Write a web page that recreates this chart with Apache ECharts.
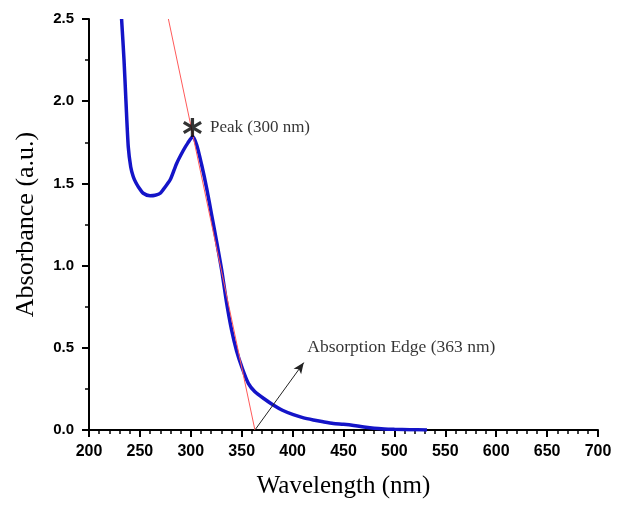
<!DOCTYPE html>
<html>
<head>
<meta charset="utf-8">
<script src="https://cdn.jsdelivr.net/npm/echarts@6/dist/echarts.min.js"></script>
<style>
  html, body { margin: 0; padding: 0; background: #fff; }
  #chart { width: 620px; height: 507px; }
</style>
</head>
<body>
<div id="chart"></div>
<script>
// UV-Vis spectrum
const wavelength = [232, 234.4, 236.3, 238.6, 241, 243.5, 246, 248.4, 253.3, 260, 265, 270, 275, 280, 286, 292.6, 297, 301.9, 305.8, 310.7, 315.6, 320.5, 325.4, 330.4, 335, 340, 345, 350, 356.5, 363, 372, 381, 390, 400.7, 410, 420.3, 430, 440, 450, 460, 470, 480, 490, 500, 515, 532];
const absorbance = [2.5, 2.25, 2.0, 1.72, 1.60, 1.54, 1.505, 1.48, 1.44, 1.425, 1.428, 1.44, 1.48, 1.525, 1.62, 1.70, 1.745, 1.784, 1.734, 1.612, 1.47, 1.308, 1.145, 0.97, 0.78, 0.61, 0.48, 0.385, 0.284, 0.233, 0.19, 0.152, 0.12, 0.093, 0.075, 0.061, 0.05, 0.04, 0.035, 0.028, 0.018, 0.01, 0.006, 0.004, 0.002, 0.0];

// tangent used for the absorption edge
const tangentX = [278, 363];
const tangentY = [2.5, 0];

// annotations
const peakPoint = [301.6, 1.84];
const peakText = 'Peak (300 nm)';
const arrowFrom = [363, 0];
const arrowTo = [411, 0.41];
const edgeTextAt = [413.9, 0.505];
const edgeText = 'Absorption Edge (363 nm)';

const asterisk = 'path://M84 0L116 0L116 200L84 200Z' +
  'M176.6 32.7L192.6 60.4L23.4 167.3L7.4 139.6Z' +
  'M7.4 60.4L23.4 32.7L192.6 139.6L176.6 167.3Z';

const chart = echarts.init(document.getElementById('chart'));
const serif = '"Liberation Serif", "Times New Roman", serif';
const sans = '"Liberation Sans", Arial, sans-serif';

chart.setOption({
  animation: false,
  grid: { left: 89, right: 22, top: 19, bottom: 77 },
  xAxis: {
    type: 'value', min: 200, max: 700, interval: 50,
    name: 'Wavelength (nm)', nameLocation: 'middle', nameGap: 44,
    nameTextStyle: { fontFamily: serif, fontSize: 25, color: '#000' },
    axisLine: { show: true, onZero: false, lineStyle: { color: '#000', width: 2 } },
    axisTick: { show: true, inside: false, length: 7, lineStyle: { color: '#000', width: 2 } },
    minorTick: { show: true, splitNumber: 5, length: 4, lineStyle: { color: '#000', width: 1.5 } },
    axisLabel: { margin: 14, fontFamily: sans, fontWeight: 'bold', fontSize: 16, color: '#000' },
    splitLine: { show: false }
  },
  yAxis: {
    type: 'value', min: 0, max: 2.5, interval: 0.5,
    name: 'Absorbance (a.u.)', nameLocation: 'middle', nameGap: 50,
    nameTextStyle: { fontFamily: serif, fontSize: 26, color: '#000' },
    axisLine: { show: true, lineStyle: { color: '#000', width: 2 } },
    axisTick: { show: true, inside: false, length: 7, lineStyle: { color: '#000', width: 2 } },
    minorTick: { show: true, splitNumber: 2, length: 4, lineStyle: { color: '#000', width: 1.5 } },
    axisLabel: {
      margin: 15, fontFamily: sans, fontWeight: 'bold', fontSize: 15, color: '#000',
      formatter: v => v.toFixed(1)
    },
    splitLine: { show: false }
  },
  series: [
    {
      name: 'tangent', type: 'line', symbol: 'none', silent: true,
      data: tangentX.map((x, i) => [x, tangentY[i]]),
      lineStyle: { color: '#ff5a5a', width: 1 },
      z: 3
    },
    {
      name: 'spectrum', type: 'line', symbol: 'none', smooth: 0.25,
      data: wavelength.map((x, i) => [x, absorbance[i]]),
      lineStyle: { color: '#1414c8', width: 3.5 },
      z: 2,
      markLine: {
        silent: true, symbol: ['none', 'arrow'], symbolSize: [7, 11],
        label: { show: false },
        lineStyle: { color: '#222', width: 1, type: 'solid' },
        data: [[{ coord: arrowFrom }, { coord: arrowTo }]]
      }
    },
    {
      name: 'peak', type: 'scatter', symbol: asterisk, symbolSize: [19, 19],
      itemStyle: { color: '#000' },
      data: [peakPoint],
      label: {
        show: true, position: 'right', distance: 8,
        formatter: peakText, fontFamily: serif, fontSize: 17, color: '#000'
      },
      z: 5
    },
    {
      name: 'edge', type: 'scatter', symbol: 'rect', symbolSize: 1,
      itemStyle: { color: 'rgba(255,255,255,0)' },
      data: [edgeTextAt],
      label: {
        show: true, position: 'right', distance: 0,
        formatter: edgeText, fontFamily: serif, fontSize: 17.5, color: '#000'
      },
      z: 5
    }
  ]
});
</script>
</body>
</html>
